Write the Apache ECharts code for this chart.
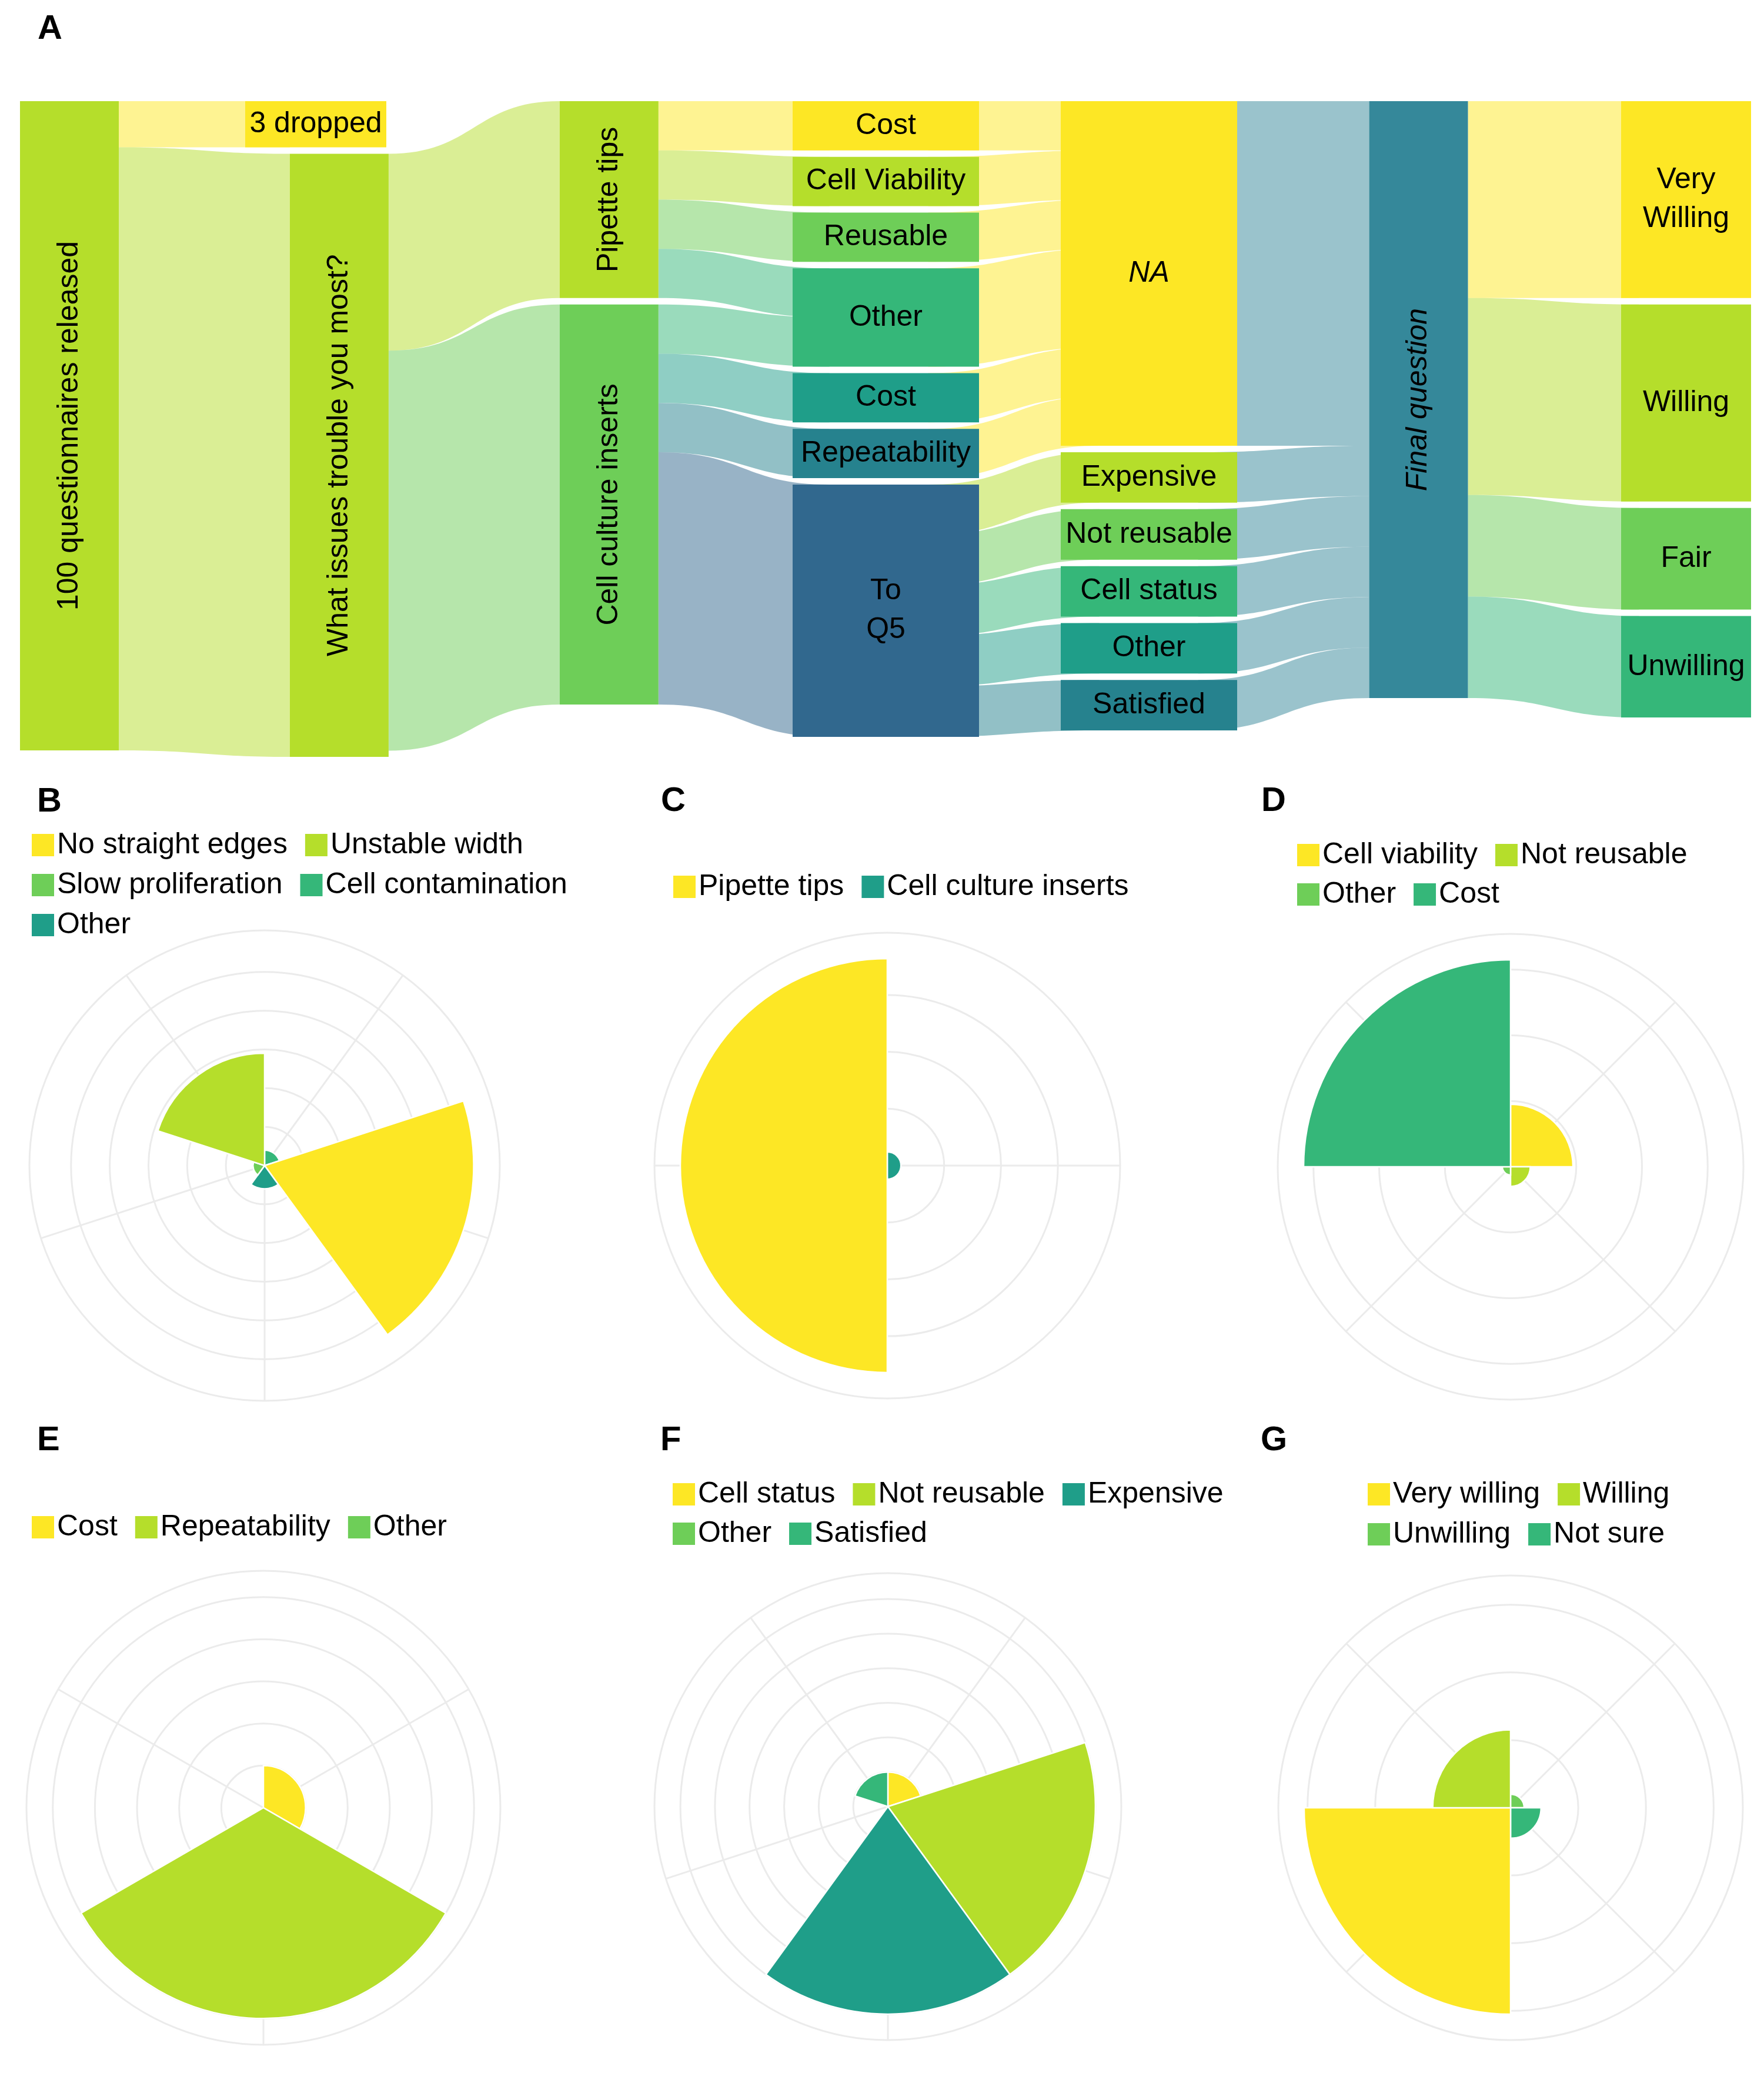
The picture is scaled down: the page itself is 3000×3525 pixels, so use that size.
<!DOCTYPE html>
<html>
<head>
<meta charset="utf-8">
<title>Questionnaire survey</title>
<script src="https://cdn.jsdelivr.net/npm/echarts@6/dist/echarts.min.js"></script>
<style>
  html, body { margin: 0; padding: 0; background: #fff; overflow: hidden; }
  #page { position: relative; width: 3000px; height: 3525px; }
  .panel { position: absolute; }
</style>
</head>
<body>
<div id="page">
  <div id="sankey" class="panel" style="left:0;top:0;width:3000px;height:1300px"></div>
  <div id="b" class="panel" style="left:0;top:1300px;width:1100px;height:1100px"></div>
  <div id="c" class="panel" style="left:1000px;top:1300px;width:1100px;height:1100px"></div>
  <div id="d" class="panel" style="left:2000px;top:1300px;width:1000px;height:1100px"></div>
  <div id="e" class="panel" style="left:0;top:2400px;width:1100px;height:1125px"></div>
  <div id="f" class="panel" style="left:1000px;top:2400px;width:1100px;height:1125px"></div>
  <div id="g" class="panel" style="left:2000px;top:2400px;width:1000px;height:1125px"></div>
</div>
<script>
const FONT = 'Liberation Sans'

// ---- panel A: sankey ----
const sankeyIds = ['q0', 'dropped', 'issues', 'tips', 'inserts',
  'tipCost', 'tipViability', 'tipReusable', 'other1', 'insCost', 'insRepeat', 'toQ5',
  'na', 'expensive', 'notReusable', 'cellStatus', 'q5Other', 'satisfied',
  'final', 'veryWilling', 'willing', 'fair', 'unwilling']
const sankeyLabels = ['100 questionnaires released', '3 dropped', 'What issues trouble you most?', 'Pipette tips', 'Cell culture inserts',
  'Cost', 'Cell Viability', 'Reusable', 'Other', 'Cost', 'Repeatability', 'To\nQ5',
  'NA', 'Expensive', 'Not reusable', 'Cell status', 'Other', 'Satisfied',
  'Final question', 'Very\nWilling', 'Willing', 'Fair', 'Unwilling']
const sankeyColors = ['#B5DE2B', '#FDE725', '#B5DE2B', '#B5DE2B', '#6ECE58',
  '#FDE725', '#B5DE2B', '#6ECE58', '#35B779', '#1F9E89', '#26828E', '#31688E',
  '#FDE725', '#B5DE2B', '#6ECE58', '#35B779', '#1F9E89', '#26828E',
  '#35889A', '#FDE725', '#B5DE2B', '#6ECE58', '#35B779']
const sankeyLinks = [
  ['q0', 'dropped', 7.5], ['q0', 'issues', 98],
  ['issues', 'tips', 32], ['issues', 'inserts', 65],
  ['tips', 'tipCost', 8], ['tips', 'tipViability', 8], ['tips', 'tipReusable', 8], ['tips', 'other1', 8],
  ['inserts', 'other1', 8], ['inserts', 'insCost', 8], ['inserts', 'insRepeat', 8], ['inserts', 'toQ5', 41],
  ['tipCost', 'na', 8], ['tipViability', 'na', 8], ['tipReusable', 'na', 8], ['other1', 'na', 16],
  ['insCost', 'na', 8], ['insRepeat', 'na', 8],
  ['toQ5', 'expensive', 8.2], ['toQ5', 'notReusable', 8.2], ['toQ5', 'cellStatus', 8.2],
  ['toQ5', 'q5Other', 8.2], ['toQ5', 'satisfied', 8.2],
  ['na', 'final', 56], ['expensive', 'final', 8.2], ['notReusable', 'final', 8.2],
  ['cellStatus', 'final', 8.2], ['q5Other', 'final', 8.2], ['satisfied', 'final', 8.2],
  ['final', 'veryWilling', 32], ['final', 'willing', 32], ['final', 'fair', 16.5], ['final', 'unwilling', 16.5]
]
const verticalLabels = ['q0', 'issues', 'tips', 'inserts', 'final']
const italicLabels = ['na', 'final']

// ---- panels B-G: rose charts (angle order = category order) ----
const bCategories = ['Cell contamination', 'No straight edges', 'Other', 'Slow proliferation', 'Unstable width']
const bValues = [4, 54, 6, 3, 29]
const bLegend = ['No straight edges', 'Unstable width', 'Slow proliferation', 'Cell contamination', 'Other']
const bColors = ['#FDE725', '#B5DE2B', '#6ECE58', '#35B779', '#1F9E89']
const bTicks = [10, 20, 30, 40, 50]

const cCategories = ['Cell culture inserts', 'Pipette tips']
const cValues = [6, 91]
const cLegend = ['Pipette tips', 'Cell culture inserts']
const cColors = ['#FDE725', '#1F9E89']
const cTicks = [25, 50, 75]

const dCategories = ['Cell viability', 'Not reusable', 'Other', 'Cost']
const dValues = [19, 6, 2.5, 63]
const dLegend = ['Cell viability', 'Not reusable', 'Other', 'Cost']
const dColors = ['#FDE725', '#B5DE2B', '#6ECE58', '#35B779']
const dTicks = [20, 40, 60]

const eCategories = ['Cost', 'Repeatability', 'Other']
const eValues = [10, 50, 0]
const eLegend = ['Cost', 'Repeatability', 'Other']
const eColors = ['#FDE725', '#B5DE2B', '#6ECE58']
const eTicks = [10, 20, 30, 40, 50]

const fCategories = ['Cell status', 'Not reusable', 'Expensive', 'Other', 'Satisfied']
const fValues = [5, 30, 30, 0, 5]
const fLegend = ['Cell status', 'Not reusable', 'Expensive', 'Other', 'Satisfied']
const fColors = ['#FDE725', '#B5DE2B', '#1F9E89', '#6ECE58', '#35B779']
const fTicks = [5, 10, 15, 20, 25, 30]

const gCategories = ['Unwilling', 'Not sure', 'Very willing', 'Willing']
const gValues = [4, 9, 61, 23]
const gLegend = ['Very willing', 'Willing', 'Unwilling', 'Not sure']
const gColors = ['#FDE725', '#B5DE2B', '#6ECE58', '#35B779']
const gTicks = [20, 40, 60]

// ---------- sankey layout ----------
const STEP = 458.9       // distance between column centres
const NODE_W = 168
const FIRST_CENTER = 118
const S_TOP = 172
const S_HEIGHT = 1115
const S_GAP = 11

// columns whose boxes are wider than the default node
const wideColumns = [
  { ids: ['dropped'], depth: 1, width: 240, left: 417 },
  { ids: ['tipCost', 'tipViability', 'tipReusable', 'other1', 'insCost', 'insRepeat', 'toQ5'], depth: 3, width: 317, left: 1348 },
  { ids: ['na', 'expensive', 'notReusable', 'cellStatus', 'q5Other', 'satisfied'], depth: 4, width: 300, left: 1804 },
  { ids: ['veryWilling', 'willing', 'fair', 'unwilling'], depth: 6, width: 221, left: 2757 }
]
const overlaid = wideColumns.reduce((a, c) => a.concat(c.ids), [])

function sankeyNodes (visible) {
  return sankeyIds.map(function (id, i) {
    const show = visible.indexOf(id) >= 0
    return {
      name: id,
      itemStyle: { color: sankeyColors[i], opacity: show ? 1 : 0, borderWidth: 0 },
      label: {
        show: show,
        formatter: sankeyLabels[i],
        rotate: verticalLabels.indexOf(id) >= 0 ? 90 : 0,
        fontStyle: italicLabels.indexOf(id) >= 0 ? 'italic' : 'normal'
      }
    }
  })
}

function sankeySeries (visible, nodeWidth, left, showLinks) {
  return {
    type: 'sankey',
    left: left,
    top: S_TOP,
    width: 6 * STEP + nodeWidth,
    height: S_HEIGHT,
    nodeWidth: nodeWidth,
    nodeGap: S_GAP,
    nodeAlign: 'left',
    layoutIterations: 0,
    draggable: false,
    silent: true,
    emphasis: { disabled: true },
    label: {
      position: 'inside',
      fontFamily: FONT,
      fontSize: 50,
      lineHeight: 66,
      color: '#000'
    },
    lineStyle: { color: 'target', opacity: showLinks ? 0.5 : 0, curveness: 0.5 },
    data: sankeyNodes(visible),
    links: sankeyLinks.map(l => ({ source: l[0], target: l[1], value: l[2] }))
  }
}

const mainVisible = sankeyIds.filter(id => overlaid.indexOf(id) < 0)
const sankeyChart = echarts.init(document.getElementById('sankey'))
sankeyChart.setOption({
  animation: false,
  graphic: [{
    type: 'text', left: 64, top: 21,
    style: { text: 'A', font: 'bold 58px "Liberation Sans"', fill: '#000' }
  }],
  series: [sankeySeries(mainVisible, NODE_W, FIRST_CENTER - NODE_W / 2, true)].concat(
    wideColumns.map(c => sankeySeries(c.ids, c.width, c.left - c.depth * STEP, false))
  )
})

// ---------- rose charts ----------
const gridStyle = { color: '#EBEBEB', width: 3 }

function roseChart (p) {
  const maxVal = Math.max.apply(null, p.values)
  const outer = maxVal * 1.125
  // one legend per row, so the row spacing follows the figure
  let start = 0
  const legends = p.rows.map(function (count, r) {
    const names = p.legend.slice(start, start + count)
    start += count
    return {
      data: names,
      left: p.legendX,
      top: p.rowTops[r],
      orient: 'horizontal',
      padding: 0,
      icon: 'rect',
      itemWidth: 38,
      itemHeight: 38,
      itemGap: 30,
      selectedMode: false,
      itemStyle: { borderWidth: 0 },
      textStyle: { fontFamily: FONT, fontSize: 50, color: '#000' }
    }
  })
  const chart = echarts.init(document.getElementById(p.el))
  chart.setOption({
    animation: false,
    graphic: [{
      type: 'text', left: p.tagX, top: p.tagY,
      style: { text: p.tag, font: 'bold 58px "Liberation Sans"', fill: '#000' }
    }],
    legend: legends,
    polar: { center: [p.cx, p.cy], radius: p.r },
    angleAxis: {
      type: 'category',
      data: p.categories,
      startAngle: 90,
      clockwise: true,
      boundaryGap: true,
      axisLine: { show: false },
      axisLabel: { show: false },
      axisTick: { show: false, alignWithLabel: true },
      splitLine: { show: true, lineStyle: gridStyle }
    },
    radiusAxis: {
      type: 'value',
      min: 0,
      max: outer,
      interval: p.ticks[0],
      axisLine: { show: false },
      axisLabel: { show: false },
      axisTick: { show: false, customValues: p.ticks.concat([outer]) },
      splitLine: { show: true, lineStyle: gridStyle }
    },
    series: p.categories.map(function (c, i) {
      return {
        type: 'bar',
        coordinateSystem: 'polar',
        name: c,
        stack: 'rose',
        barCategoryGap: '0%',
        silent: true,
        itemStyle: { color: p.colors[p.legend.indexOf(c)], borderColor: '#fff', borderWidth: 2.5 },
        data: p.categories.map((_, j) => (j === i ? p.values[i] : '-'))
      }
    })
  })
}

roseChart({ el: 'b', tag: 'B', tagX: 63, tagY: 35, legendX: 54, rows: [2, 2, 1], rowTops: [112, 180, 248],
  cx: 450, cy: 682, r: 400, categories: bCategories, values: bValues, legend: bLegend, colors: bColors, ticks: bTicks })
roseChart({ el: 'c', tag: 'C', tagX: 124, tagY: 34, legendX: 145, rows: [2], rowTops: [183],
  cx: 509, cy: 682, r: 396, categories: cCategories, values: cValues, legend: cLegend, colors: cColors, ticks: cTicks })
roseChart({ el: 'd', tag: 'D', tagX: 145, tagY: 34, legendX: 206, rows: [2, 2], rowTops: [129, 196],
  cx: 569, cy: 684, r: 396, categories: dCategories, values: dValues, legend: dLegend, colors: dColors, ticks: dTicks })
roseChart({ el: 'e', tag: 'E', tagX: 63, tagY: 21, legendX: 54, rows: [3], rowTops: [172],
  cx: 448, cy: 674, r: 403, categories: eCategories, values: eValues, legend: eLegend, colors: eColors, ticks: eTicks })
roseChart({ el: 'f', tag: 'F', tagX: 123, tagY: 21, legendX: 144, rows: [3, 2], rowTops: [116, 183],
  cx: 510, cy: 672, r: 397, categories: fCategories, values: fValues, legend: fLegend, colors: fColors, ticks: fTicks })
roseChart({ el: 'g', tag: 'G', tagX: 144, tagY: 21, legendX: 326, rows: [2, 2], rowTops: [116, 184],
  cx: 569, cy: 674, r: 395, categories: gCategories, values: gValues, legend: gLegend, colors: gColors, ticks: gTicks })
</script>
</body>
</html>
